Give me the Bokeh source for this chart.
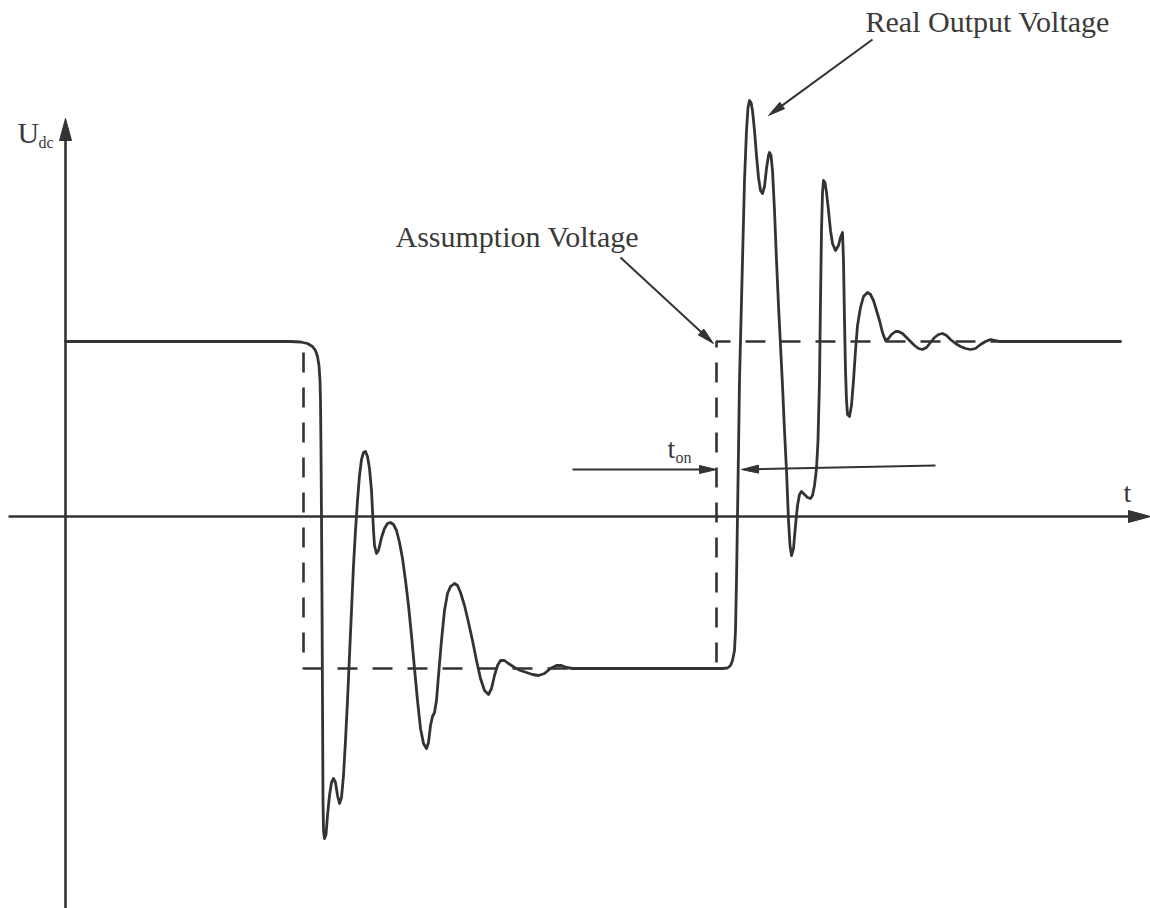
import math
from bokeh.plotting import figure
from bokeh.models import Range1d
from bokeh.core.properties import value
from bokeh.embed import file_html
from bokeh.resources import INLINE

# ---------------- data (t: time units, u: voltage units; origin at axes crossing) -------------
real_t = [0, 225, 235, 242, 247, 250, 252, 253.5, 254.5, 255, 255.5, 256, 256.5, 257, 257.5, 258, 259,
          260.5, 262, 264, 266, 268, 270, 272, 274, 276, 278, 280, 282, 284, 286, 288, 290, 292, 294,
          296, 298, 300, 302, 304, 306, 307, 308, 309, 311, 313, 316, 319, 322, 325, 328, 331, 334,
          337, 340, 343, 346, 349, 352, 355, 358, 361, 363, 365, 367, 369, 371, 373, 376, 379, 382,
          385, 389, 392, 395, 399, 403, 407, 411, 415, 419, 423, 426, 429, 432, 435, 439, 443, 449,
          455, 461, 467, 473, 479, 485, 491, 496, 501, 507, 657, 662, 665, 667, 669, 670, 671, 672,
          673, 674, 675, 677, 679, 681, 682.5, 684, 685.5, 687, 689, 691, 693, 695, 697, 699, 701,
          703, 704, 705.5, 707, 709, 711, 713, 715, 717, 719, 721, 723, 724.5, 726, 728, 730, 732,
          734, 736, 739, 742, 745, 747, 749, 751, 752.5, 754, 755, 756, 757, 758, 759.5, 761, 763,
          765, 767, 770, 773, 775, 777, 778, 779, 780, 781, 782, 784, 786, 788, 790, 792, 795, 798,
          802, 805, 808, 811, 814, 817, 820, 823, 826, 830, 833, 837, 841, 845, 849, 853, 857, 861,
          865, 869, 873, 877, 881, 885, 890, 895, 900, 905, 910, 915, 920, 925, 930, 935, 1055]
real_u = [175, 175, 174.5, 173, 170, 166, 160, 151, 136, 116, 66, 0, -84, -184, -284, -314, -322,
          -318, -299, -279, -266, -262, -266, -279, -287, -281, -259, -224, -184, -139, -94, -49, -14,
          16, 41, 57, 64, 65, 60, 48, 26, 6, -14, -29, -37, -34, -21, -12, -7, -6, -8, -14, -26,
          -42, -64, -89, -119, -152, -184, -212, -227, -232, -226, -209, -200, -196, -184, -159, -124,
          -94, -77, -70, -67, -69, -76, -89, -106, -124, -144, -162, -174, -178, -172, -159, -149,
          -144, -144, -147, -151, -154, -156, -158, -159, -157, -152, -149, -149, -151, -152, -152,
          -151.5, -149, -144, -134, -114, -64, 0, 66, 136, 176, 256, 336, 386, 409, 416, 414, 406,
          386, 361, 339, 326, 323, 330, 348, 361, 364, 361, 346, 306, 256, 211, 171, 131, 86, 46, -4,
          -29, -39, -32, -9, 11, 22, 25, 22, 19, 18, 21, 31, 48, 76, 136, 216, 286, 324, 336, 334,
          324, 306, 286, 273, 266, 271, 279, 284, 256, 196, 146, 116, 102, 100, 111, 136, 166, 191,
          209, 220, 224, 222, 216, 206, 196, 184, 176, 178, 182, 185, 185, 183, 179, 175, 171, 168,
          167, 169, 174, 179, 182, 183, 181, 177, 173, 170, 168, 167, 168, 172, 175, 177, 176, 175, 175]

# assumption (ideal) voltage
U_HIGH = 175
U_LOW = -152
T_SW_OFF = 238
T_SW_ON = 651
T_END = 935
assume_t = [T_SW_OFF, T_SW_OFF, T_SW_ON, T_SW_ON, T_END]
assume_u = [U_HIGH, U_LOW, U_LOW, U_HIGH, U_HIGH]

# labels
label_main = ["Real Output Voltage", "Assumption Voltage", "U", "t", "t"]
label_main_t = [800, 330, -48, 1058, 602]
label_main_u = [484, 269, 373, 13, 57]
label_main_px = [30, 30, 30, 28, 28]
label_sub = ["dc", "on"]
label_sub_t = [-27, 610]
label_sub_u = [368, 53]
label_sub_px = [16, 16]

# annotation arrows: (tail_t, tail_u, tip_t, tip_u)
arrows = [
    (807, 477, 703, 401),   # Real Output Voltage
    (555, 259, 648, 173),   # Assumption Voltage
    (507, 47, 651, 47),     # t_on left
    (870, 51, 676, 47),     # t_on right
]
# axes: (tail_t, tail_u, tip_t, tip_u)
axes = [
    (-57, 0, 1085, 0),
    (0, -392, 0, 398),
]

INK = "#333333"
TXT = "#3a3a3a"
FONT = "Liberation Serif"
BASELINE_SHIFT = 0.38   # em, compensation for svg alphabetic baseline placement

p = figure(width=1150, height=908, x_range=Range1d(-65, 1085), y_range=Range1d(-392, 516),
           output_backend="svg", toolbar_location=None, min_border=0,
           x_axis_type=None, y_axis_type=None)
p.outline_line_color = None
p.background_fill_color = "white"
p.border_fill_color = "white"


def head(tail_t, tail_u, tip_t, tip_u, length, width):
    dx, dy = tip_t - tail_t, tip_u - tail_u
    n = math.hypot(dx, dy)
    ux, uy = dx / n, dy / n
    bx, by = tip_t - ux * length, tip_u - uy * length
    px, py = -uy * width / 2, ux * width / 2
    return [tip_t, bx + px, bx - px], [tip_u, by + py, by - py], (bx + ux * 2, by + uy * 2)


def draw_arrows(items, length, width, lw):
    xs, ys, x0, y0, x1, y1 = [], [], [], [], [], []
    for (a, b, c, d) in items:
        hx, hy, base = head(a, b, c, d, length, width)
        xs.append(hx); ys.append(hy)
        x0.append(a); y0.append(b); x1.append(base[0]); y1.append(base[1])
    p.segment(x0, y0, x1, y1, line_color=INK, line_width=lw)
    p.patches(xs, ys, fill_color=INK, line_color=INK, line_width=1)


# axes
draw_arrows(axes, 22, 12, 2.6)

# assumption voltage (dashed)
p.line(assume_t, assume_u, line_color=INK, line_width=2.6, line_dash="20 15",
       line_dash_offset=24, line_cap="butt")

# real output voltage
p.line(real_t, real_u, line_color=INK, line_width=2.8, line_join="round", line_cap="round")

# annotation arrows
draw_arrows(arrows, 17, 8, 2.0)

# text labels
for txt, tt, uu, sz in zip(label_main + label_sub, label_main_t + label_sub_t,
                           label_main_u + label_sub_u, label_main_px + label_sub_px):
    p.text(x=[tt], y=[uu + BASELINE_SHIFT * sz], text=[txt], text_font=value(FONT),
           text_font_size=f"{sz}px", text_color=TXT, text_baseline="alphabetic",
           text_align="left")

open("out.html", "w").write(file_html(p, INLINE))
